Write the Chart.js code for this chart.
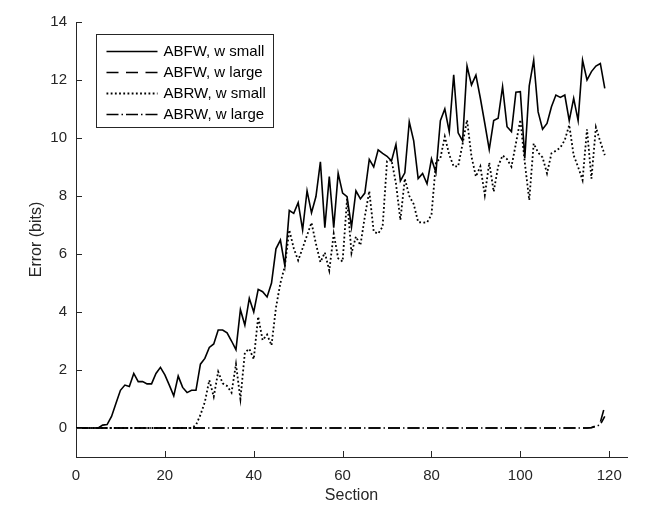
<!DOCTYPE html>
<html>
<head>
<meta charset="utf-8">
<script src="https://cdn.jsdelivr.net/npm/chart.js@4.4.0/dist/chart.umd.min.js"></script>
<style>
  html, body { margin: 0; padding: 0; background: #fff; }
  #wrap { width: 664px; height: 526px; }
</style>
</head>
<body>
<div id="wrap"><canvas id="errChart" width="664" height="526"></canvas></div>
<script>
// Section index (x)
const sections = [
    0, 1, 2, 3, 4, 5, 6, 7, 8, 9, 10, 11, 12, 13, 14, 15, 16, 17, 18, 19,
    20, 21, 22, 23, 24, 25, 26, 27, 28, 29, 30, 31, 32, 33, 34, 35, 36, 37, 38, 39,
    40, 41, 42, 43, 44, 45, 46, 47, 48, 49, 50, 51, 52, 53, 54, 55, 56, 57, 58, 59,
    60, 61, 62, 63, 64, 65, 66, 67, 68, 69, 70, 71, 72, 73, 74, 75, 76, 77, 78, 79,
    80, 81, 82, 83, 84, 85, 86, 87, 88, 89, 90, 91, 92, 93, 94, 95, 96, 97, 98, 99,
    100, 101, 102, 103, 104, 105, 106, 107, 108, 109, 110, 111, 112, 113, 114, 115, 116, 117, 118, 119
];

// Error in bits
const abfwSmall = [
    0, 0, 0, 0, 0, 0, 0.1, 0.12, 0.4, 0.85,
    1.3, 1.48, 1.43, 1.88, 1.6, 1.6, 1.52, 1.52, 1.88, 2.09,
    1.83, 1.48, 1.11, 1.79, 1.4, 1.22, 1.3, 1.3, 2.2, 2.4,
    2.78, 2.9, 3.38, 3.38, 3.28, 3.0, 2.7, 4.08, 3.55, 4.47,
    4.0, 4.78, 4.7, 4.52, 5.0, 6.18, 6.48, 5.6, 7.5, 7.4,
    7.77, 6.83, 8.18, 7.42, 7.98, 9.18, 6.91, 8.67, 6.91, 8.78,
    8.1, 7.98, 6.93, 8.18, 7.9, 8.1, 9.26, 9.0, 9.59, 9.47,
    9.37, 9.21, 9.78, 8.52, 8.8, 10.56, 9.9, 8.6, 8.78, 8.42,
    9.28, 8.8, 10.6, 11.0, 10.22, 12.18, 10.18, 9.9, 12.48, 11.83,
    12.17, 11.37, 10.5, 9.6, 10.6, 10.68, 11.77, 10.39, 10.22, 11.58,
    11.6, 9.3, 11.8, 12.68, 10.9, 10.3, 10.5, 11.08, 11.48, 11.4,
    11.48, 10.6, 11.37, 10.6, 12.68, 12.0, 12.29, 12.48, 12.57, 11.71
];
const abfwLarge = [
    0, 0, 0, 0, 0, 0, 0, 0, 0, 0, 0, 0, 0, 0, 0, 0, 0, 0, 0, 0,
    0, 0, 0, 0, 0, 0, 0, 0, 0, 0, 0, 0, 0, 0, 0, 0, 0, 0, 0, 0,
    0, 0, 0, 0, 0, 0, 0, 0, 0, 0, 0, 0, 0, 0, 0, 0, 0, 0, 0, 0,
    0, 0, 0, 0, 0, 0, 0, 0, 0, 0, 0, 0, 0, 0, 0, 0, 0, 0, 0, 0,
    0, 0, 0, 0, 0, 0, 0, 0, 0, 0, 0, 0, 0, 0, 0, 0, 0, 0, 0, 0,
    0, 0, 0, 0, 0, 0, 0, 0, 0, 0, 0, 0, 0, 0, 0, 0, 0.02, 0.08, 0.2, 0.75
];
const abrwSmall = [
    0, 0, 0, 0, 0, 0, 0, 0, 0, 0,
    0, 0, 0, 0, 0, 0, 0, 0, 0, 0,
    0, 0, 0, 0, 0, 0, 0, 0.1, 0.45, 0.9,
    1.65, 1.08, 1.94, 1.54, 1.45, 1.22, 2.2, 1.0, 2.6, 2.73,
    2.37, 3.84, 3.03, 3.22, 2.85, 4.15, 5.0, 5.58, 6.83, 6.2,
    5.78, 6.2, 6.65, 7.08, 6.35, 5.72, 6.05, 5.43, 6.7, 5.85,
    5.74, 7.9, 6.03, 6.6, 6.3, 7.29, 8.17, 6.77, 6.7, 6.94,
    9.2, 9.24, 8.44, 7.17, 8.6, 8.0, 7.72, 7.1, 7.08, 7.09,
    7.35, 9.15, 9.3, 10.05, 9.42, 9.02, 9.02, 9.8, 10.62, 9.36,
    8.67, 9.02, 8.03, 9.15, 8.15, 9.02, 9.4, 9.27, 9.01, 9.81,
    10.63, 9.15, 7.86, 9.81, 9.5, 9.33, 8.78, 9.47, 9.56, 9.67,
    9.93, 10.45, 9.4, 9.0, 8.55, 10.3, 8.6, 10.37, 9.87, 9.41
];
const abrwLarge = [
    0, 0, 0, 0, 0, 0, 0, 0, 0, 0, 0, 0, 0, 0, 0, 0, 0, 0, 0, 0,
    0, 0, 0, 0, 0, 0, 0, 0, 0, 0, 0, 0, 0, 0, 0, 0, 0, 0, 0, 0,
    0, 0, 0, 0, 0, 0, 0, 0, 0, 0, 0, 0, 0, 0, 0, 0, 0, 0, 0, 0,
    0, 0, 0, 0, 0, 0, 0, 0, 0, 0, 0, 0, 0, 0, 0, 0, 0, 0, 0, 0,
    0, 0, 0, 0, 0, 0, 0, 0, 0, 0, 0, 0, 0, 0, 0, 0, 0, 0, 0, 0,
    0, 0, 0, 0, 0, 0, 0, 0, 0, 0, 0, 0, 0, 0, 0, 0, 0.01, 0.05, 0.12, 0.4
];

const seriesNames = ["ABFW, w small", "ABFW, w large", "ABRW, w small", "ABRW, w large"];
const xTicks = [0, 20, 40, 60, 80, 100, 120];
const yTicks = [0, 2, 4, 6, 8, 10, 12, 14];

const axisColor = "#262626";
const fontFamily = '"Liberation Sans", Arial, Helvetica, sans-serif';

// Matlab-like line styles
const styles = [
    { dash: [], width: 1.6 },
    { dash: [12, 7.5], width: 1.6 },
    { dash: [1.8, 2.4], width: 1.8 },
    { dash: [12, 3, 1.5, 3], width: 1.6 }
];

function makeSet(i, values) {
    return {
        label: seriesNames[i],
        data: values,
        borderColor: "#000",
        borderWidth: styles[i].width,
        borderDash: styles[i].dash,
        pointRadius: 0,
        tension: 0,
        fill: false
    };
}

// Tick marks pointing into the axes
const innerTicks = {
    id: "innerTicks",
    afterDraw(chart) {
        const { ctx, chartArea, scales } = chart;
        ctx.save();
        ctx.strokeStyle = axisColor;
        ctx.lineWidth = 1;
        ctx.beginPath();
        scales.x.ticks.forEach(t => {
            const px = Math.round(scales.x.getPixelForValue(t.value)) + 0.5;
            ctx.moveTo(px, chartArea.bottom);
            ctx.lineTo(px, chartArea.bottom - 6);
        });
        scales.y.ticks.forEach(t => {
            const py = Math.round(scales.y.getPixelForValue(t.value)) + 0.5;
            ctx.moveTo(chartArea.left, py);
            ctx.lineTo(chartArea.left + 6, py);
        });
        ctx.stroke();
        ctx.restore();
    }
};

// Boxed legend inside the top-left corner
const boxLegend = {
    id: "boxLegend",
    afterDraw(chart) {
        const { ctx, chartArea } = chart;
        const bx = chartArea.left + 20.5;
        const by = chartArea.top + 12.5;
        const bw = 177;
        const bh = 93;
        ctx.save();
        ctx.fillStyle = "#fff";
        ctx.fillRect(bx, by, bw, bh);
        ctx.strokeStyle = axisColor;
        ctx.lineWidth = 1;
        ctx.strokeRect(bx, by, bw, bh);

        ctx.font = "15px " + fontFamily;
        ctx.textBaseline = "middle";
        ctx.textAlign = "left";
        chart.data.datasets.forEach((ds, i) => {
            const rowY = by + 17 + i * 21;
            ctx.strokeStyle = "#000";
            ctx.lineWidth = ds.borderWidth;
            ctx.setLineDash(ds.borderDash);
            ctx.beginPath();
            ctx.moveTo(bx + 10, rowY);
            ctx.lineTo(bx + 61, rowY);
            ctx.stroke();
            ctx.setLineDash([]);
            ctx.fillStyle = "#000";
            ctx.fillText(ds.label, bx + 67, rowY);
        });
        ctx.restore();
    }
};

new Chart(document.getElementById("errChart"), {
    type: "line",
    data: {
        labels: sections,
        datasets: [
            makeSet(0, abfwSmall),
            makeSet(1, abfwLarge),
            makeSet(2, abrwSmall),
            makeSet(3, abrwLarge)
        ]
    },
    options: {
        responsive: false,
        animation: false,
        layout: { padding: { top: 22, right: 37, left: 0, bottom: 0 } },
        plugins: {
            legend: { display: false },
            tooltip: { enabled: false }
        },
        scales: {
            x: {
                type: "linear",
                min: 0,
                max: 124,
                afterBuildTicks: axis => { axis.ticks = xTicks.map(v => ({ value: v })); },
                afterFit: scale => { scale.height = 69; },
                grid: { display: false, drawTicks: false },
                border: { display: true, color: axisColor, width: 1 },
                ticks: {
                    padding: 10,
                    color: axisColor,
                    maxRotation: 0,
                    font: { family: fontFamily, size: 15 }
                },
                title: {
                    display: true,
                    text: "Section",
                    color: axisColor,
                    font: { family: fontFamily, size: 16 },
                    padding: { top: 0, bottom: 21 }
                }
            },
            y: {
                type: "linear",
                min: -1,
                max: 14,
                afterBuildTicks: axis => { axis.ticks = yTicks.map(v => ({ value: v })); },
                afterFit: scale => { scale.width = 76; },
                grid: { display: false, drawTicks: false },
                border: { display: true, color: axisColor, width: 1 },
                ticks: {
                    padding: 9,
                    color: axisColor,
                    font: { family: fontFamily, size: 15 }
                },
                title: {
                    display: true,
                    text: "Error (bits)",
                    color: axisColor,
                    font: { family: fontFamily, size: 16 },
                    padding: { top: 27, bottom: 0 }
                }
            }
        }
    },
    plugins: [innerTicks, boxLegend]
});
</script>
</body>
</html>
